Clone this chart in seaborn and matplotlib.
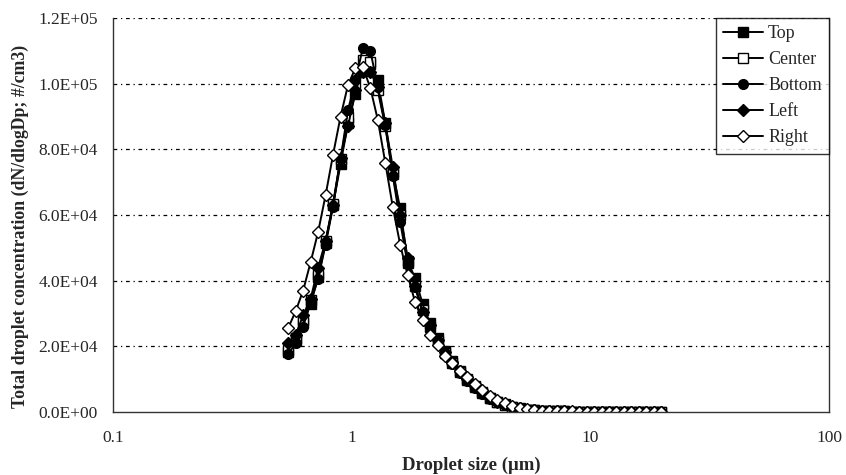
import numpy as np
import pandas as pd
import matplotlib
matplotlib.use("Agg")
import matplotlib.pyplot as plt
import seaborn as sns
from matplotlib.ticker import FuncFormatter, FixedLocator

# Droplet size channels (um)
sizes = [0.542, 0.583, 0.626, 0.673, 0.723, 0.777, 0.835, 0.898, 0.965, 1.037,
         1.114, 1.197, 1.286, 1.382, 1.486, 1.596, 1.715, 1.843, 1.981, 2.129,
         2.288, 2.458, 2.642, 2.839, 3.051, 3.278, 3.523, 3.786, 4.068, 4.371,
         4.698, 5.048, 5.425, 5.829, 6.264, 6.732, 7.234, 7.774, 8.354, 8.977,
         9.647, 10.37, 11.14, 11.97, 12.86, 13.82, 14.86, 15.96, 17.15, 18.43, 19.81]

# Concentrations in thousands of #/cm3
top = [18.3, 21.8, 27.0, 33.0, 41.0, 51.5, 63.0, 75.5, 88.0, 97.0,
       104.0, 106.0, 101.0, 88.0, 73.0, 62.0, 46.0, 40.8, 33.0, 27.0,
       22.5, 18.5, 15.5, 12.5, 10.0, 7.8, 6.0, 4.4, 3.2, 2.3,
       1.6, 1.1, 0.75, 0.55, 0.4, 0.3, 0.23, 0.18, 0.14, 0.11,
       0.09, 0.07, 0.06, 0.05, 0.04, 0.03, 0.03, 0.02, 0.02, 0.01, 0.01]
center = [19.0, 22.5, 28.0, 34.0, 42.0, 52.0, 63.5, 77.0, 90.0, 100.0,
          107.2, 106.6, 98.0, 87.0, 72.5, 60.0, 45.5, 38.5, 31.0, 26.0,
          21.5, 18.0, 15.0, 12.2, 9.8, 7.6, 5.8, 4.3, 3.1, 2.2,
          1.5, 1.0, 0.7, 0.5, 0.38, 0.28, 0.22, 0.17, 0.13, 0.1,
          0.08, 0.07, 0.06, 0.05, 0.04, 0.03, 0.03, 0.02, 0.02, 0.01, 0.01]
bottom = [17.7, 21.0, 26.0, 33.5, 40.5, 51.0, 62.5, 77.0, 92.0, 101.0,
          111.0, 110.0, 99.0, 87.5, 72.0, 58.0, 45.0, 38.0, 30.5, 25.5,
          21.0, 17.5, 14.5, 11.8, 9.4, 7.3, 5.6, 4.1, 3.0, 2.1,
          1.45, 1.0, 0.7, 0.5, 0.37, 0.28, 0.21, 0.16, 0.12, 0.1,
          0.08, 0.07, 0.06, 0.05, 0.04, 0.03, 0.03, 0.02, 0.02, 0.01, 0.01]
left = [21.0, 23.5, 29.5, 34.5, 44.0, 52.0, 63.0, 77.5, 87.0, 98.0,
        103.6, 103.6, 99.0, 88.0, 74.6, 60.0, 47.0, 38.5, 30.5, 26.5,
        21.8, 18.2, 15.2, 12.4, 10.0, 7.8, 6.0, 4.4, 3.2, 2.3,
        1.6, 1.1, 0.75, 0.55, 0.4, 0.3, 0.23, 0.18, 0.14, 0.11,
        0.09, 0.07, 0.06, 0.05, 0.04, 0.03, 0.03, 0.02, 0.02, 0.01, 0.01]
right = [25.6, 30.8, 37.0, 45.7, 54.8, 66.0, 78.3, 90.0, 99.6, 104.8,
         105.0, 98.7, 89.0, 76.0, 62.5, 51.0, 41.7, 33.5, 28.0, 23.5,
         20.4, 17.2, 14.8, 12.6, 10.6, 8.6, 6.7, 5.0, 3.6, 2.6,
         1.8, 1.2, 0.85, 0.6, 0.45, 0.35, 0.28, 0.22, 0.18, 0.15,
         0.12, 0.1, 0.08, 0.07, 0.06, 0.05, 0.04, 0.04, 0.03, 0.03, 0.02]

series_names = ["Top", "Center", "Bottom", "Left", "Right"]
series_vals = [top, center, bottom, left, right]

rows = []
for name, vals in zip(series_names, series_vals):
    for s, v in zip(sizes, vals):
        rows.append({"size": s, "conc": v * 1000.0, "loc": name})
df = pd.DataFrame(rows)

sns.set_style("white")
plt.rcParams["font.family"] = ["Liberation Serif", "DejaVu Serif"]

fig = plt.figure(figsize=(8.46, 4.75), dpi=100)
ax = fig.add_axes([0.1336, 0.1326, 0.98 - 0.1336, 0.962 - 0.1326])

styles = {
    "Top": dict(marker="s", mfc="black", ms=6.5),
    "Center": dict(marker="s", mfc="white", ms=6.5),
    "Bottom": dict(marker="o", mfc="black", ms=7),
    "Left": dict(marker="D", mfc="black", ms=6),
    "Right": dict(marker="D", mfc="white", ms=6),
}

for name in series_names:
    st = styles[name]
    sns.lineplot(data=df[df["loc"] == name], x="size", y="conc", ax=ax,
                 color="black", linewidth=1.4, marker=st["marker"],
                 markersize=st["ms"], markerfacecolor=st["mfc"],
                 markeredgecolor="black", markeredgewidth=1.0,
                 label=name, estimator=None, sort=False)

ax.set_xscale("log")
ax.set_xlim(0.1, 100)
ax.set_ylim(0, 120000)
ax.xaxis.set_major_locator(FixedLocator([0.1, 1, 10, 100]))
ax.xaxis.set_minor_locator(FixedLocator([]))
ax.set_xticklabels(["0.1", "1", "10", "100"])
ax.yaxis.set_major_locator(FixedLocator(np.arange(0, 120001, 20000)))
ax.yaxis.set_major_formatter(FuncFormatter(lambda v, p: "%.1E" % v))

for yv in np.arange(20000, 120001, 20000):
    ax.axhline(yv, color="black", linewidth=0.9, linestyle=(0, (3, 3, 1, 3)),
               zorder=0.5)

for side in ["left", "bottom", "right"]:
    ax.spines[side].set_visible(True)
    ax.spines[side].set_color("#333333")
    ax.spines[side].set_linewidth(1.0)
ax.spines["top"].set_visible(False)

ax.tick_params(axis="both", which="major", direction="out", length=4,
               width=0.8, color="#888888", labelsize=12.5, pad=7)
ax.tick_params(axis="x", pad=9)

ax.set_xlabel("Droplet size (\u03bcm)", fontsize=13.5, fontweight="bold",
              labelpad=8)
ax.set_ylabel("Total droplet concentration (dN/dlogDp; #/cm3)", fontsize=12.8,
              fontweight="bold")
ax.yaxis.set_label_coords(-0.117, 0.47)

leg = ax.legend(loc="upper right", bbox_to_anchor=(1.0, 1.0), frameon=True,
                fancybox=False, edgecolor="black", fontsize=13,
                handlelength=2.2, borderaxespad=0.0, labelspacing=0.5,
                handletextpad=0.3, borderpad=0.4)
leg.get_frame().set_linewidth(1.0)

fig.savefig("out.png", dpi=100)
